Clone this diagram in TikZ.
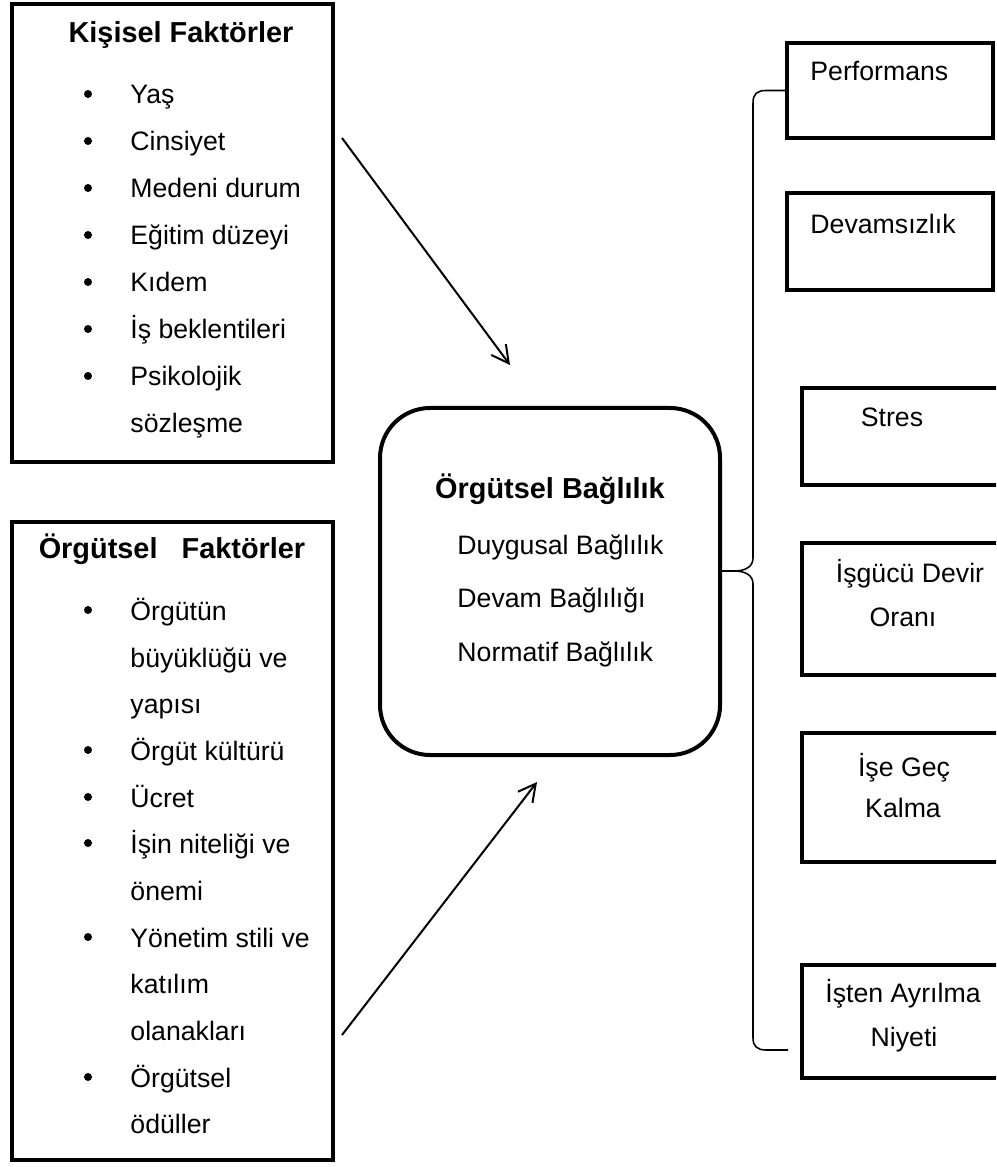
\documentclass[tikz,border=0pt]{standalone}
\usepackage{fontspec}
\setmainfont{Liberation Sans}
\usetikzlibrary{arrows.meta}
\begin{document}
\begin{tikzpicture}[x=0.45pt,y=-0.45pt,
  box/.style={draw, line width=1.8pt, anchor=north west, inner sep=0pt, outer sep=0pt},
  ttl/.style={font=\fontsize{13}{15}\selectfont\bfseries, inner sep=0pt, anchor=base},
  itm/.style={font=\fontsize{12}{14}\selectfont, inner sep=0pt, anchor=base west},
  ctr/.style={font=\fontsize{12}{14}\selectfont, inner sep=0pt, anchor=base},
  conn/.style={line width=0.9pt, -{Straight Barb[length=7.7pt,width=8.2pt,line width=0.9pt]}},
  brc/.style={line width=0.7pt}
]
\clip (0,0) rectangle (996,1167);
\fill[white] (0,0) rectangle (996,1167);

% left boxes
\node[box, minimum width=144.45pt, minimum height=206.1pt] (kis) at (12,4) {};
\node[box, minimum width=144.45pt, minimum height=287.1pt] (org) at (12,522) {};
\node[ttl] (kisT) at (181,43) {Kişisel Faktörler};
\node[ttl] (orgT) at (172,558) {Örgütsel~~~Faktörler};

\foreach[count=\i] \t/\y/\b in {Yaş/104/1, Cinsiyet/151/1, Medeni durum/198/1, Eğitim düzeyi/245/1, Kıdem/292/1, İş beklentileri/339/1, Psikolojik/386/1, sözleşme/432/0}{
  \node[itm] (k\i) at (130,\y) {\t};
  \ifnum\b=1 \fill (88,\y-10) circle[radius=1.8pt]; \fi
}
\foreach[count=\i] \t/\y/\b in {Örgütün/620/1, büyüklüğü ve/667/0, yapısı/713/0, Örgüt kültürü/760/1, Ücret/807/1, İşin niteliği ve/853/1, önemi/900/0, Yönetim stili ve/947/1, katılım/993/0, olanakları/1040/0, Örgütsel/1087/1, ödüller/1133/0}{
  \node[itm] (o\i) at (130,\y) {\t};
  \ifnum\b=1 \fill (88,\y-10) circle[radius=1.8pt]; \fi
}

% central box
\node[box, rounded corners=22.5pt, minimum width=153pt, minimum height=156.15pt] (cen) at (380,408) {};
\node[ttl] (cenT) at (550,498) {Örgütsel Bağlılık};
\node[itm] (c1) at (457,554) {Duygusal Bağlılık};
\node[itm] (c2) at (457,607) {Devam Bağlılığı};
\node[itm] (c3) at (457,661) {Normatif Bağlılık};

% right boxes
\node[box, minimum width=92.7pt, minimum height=42.75pt] (perf) at (787,43) {};
\node[box, minimum width=92.7pt, minimum height=43.65pt] (dev) at (787,193) {};
\node[box, minimum width=98.1pt, minimum height=43.65pt] (str) at (802,388) {};
\node[box, minimum width=98.1pt, minimum height=59.4pt] (isg) at (802,543) {};
\node[box, minimum width=98.1pt, minimum height=58.05pt] (gec) at (802,733) {};
\node[box, minimum width=98.1pt, minimum height=50.85pt] (ayr) at (802,965) {};

\node[itm] (perfT) at (810,81) {Performans};
\node[itm] (devT) at (810,234) {Devamsızlık};
\node[ctr] (strT) at (892,426) {Stres};
\node[ctr] (isgT1) at (910,582) {İşgücü Devir};
\node[ctr] (isgT2) at (903,626) {Oranı};
\node[ctr] (gecT1) at (904,776) {İşe Geç};
\node[ctr] (gecT2) at (903,817) {Kalma};
\node[ctr] (ayrT1) at (903,1002) {İşten Ayrılma};
\node[ctr] (ayrT2) at (904,1046) {Niyeti};

% arrows
\coordinate (a1s) at (342,138);
\coordinate (a1e) at (510,365);
\coordinate (a2s) at (342,1035);
\coordinate (a2e) at (537,782);
\draw[conn] (a1s) -- (a1e);
\draw[conn] (a2s) -- (a2e);

% brace
\coordinate (btip) at (721,571);
\coordinate (bend) at (788,1050);
\draw[brc] (perf.west) -- (766,90.5) .. controls (757,90.5) and (753,94) .. (753,103)
  -- (753,558) .. controls (753,567) and (745,571) .. (734,571) -- (btip);
\draw[brc] (btip) -- (734,571) .. controls (745,571) and (753,575) .. (753,584)
  -- (753,1038) .. controls (753,1046) and (757,1050) .. (766,1050) -- (bend);
\end{tikzpicture}
\end{document}
